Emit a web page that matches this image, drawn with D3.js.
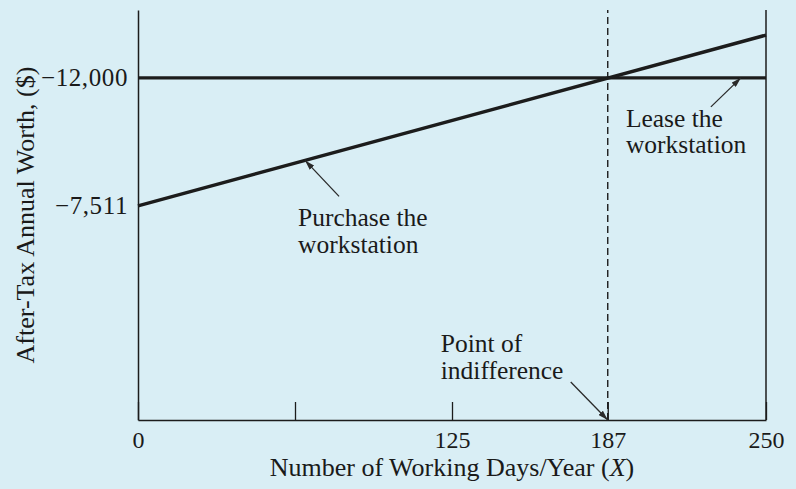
<!DOCTYPE html>
<html>
<head>
<meta charset="utf-8">
<script src="https://cdn.jsdelivr.net/npm/d3@7"></script>
<style>
  body { margin: 0; background: #d9eef5; }
  svg { display: block; }
  text { font-family: 'Liberation Serif', 'Times New Roman', serif; fill: #1a1a1a; }
</style>
</head>
<body>
<svg id="chart" width="796" height="489"></svg>
<script>
// data
const days = [0, 250]
const purchaseAW = [-7511, -13500]
const leaseAW = [-12000, -12000]
const breakEven = 187
const xTicks = [0, 62.5, 125, 187, 250]
const xTickLabels = ['0', '', '125', '187', '250']
const yTicks = [-12000, -7511]

const width = 796
const height = 489
const margin = { left: 138, right: 30, top: 10, bottom: 69 }

const svg = d3.select('#chart')
svg.append('rect').attr('width', width).attr('height', height).attr('fill', '#d9eef5')

const x = d3.scaleLinear().domain([0, 250]).range([margin.left, width - margin.right])
const y = d3.scaleLinear().domain([0, -14380]).range([height - margin.bottom, margin.top])

const ink = '#1c1c1c'

// arrow marker
svg.append('defs').append('marker')
    .attr('id', 'head')
    .attr('viewBox', '0 0 10 6')
    .attr('refX', 10)
    .attr('refY', 3)
    .attr('markerWidth', 10)
    .attr('markerHeight', 6)
    .attr('markerUnits', 'userSpaceOnUse')
    .attr('orient', 'auto')
    .append('path')
    .attr('d', 'M0,0L10,3L0,6Z')
    .attr('fill', '#2a2a2a')

// x axis
const xAxis = svg.append('g')
    .attr('transform', 'translate(0,' + y(0) + ')')
    .call(d3.axisBottom(x)
        .tickValues(xTicks)
        .tickFormat((d, i) => xTickLabels[i])
        .tickSizeInner(-18)
        .tickSizeOuter(0)
        .tickPadding(11))
xAxis.select('.domain').attr('stroke', ink).attr('stroke-width', 1.5)
xAxis.selectAll('.tick line').attr('stroke', ink).attr('stroke-width', 1.3)
xAxis.selectAll('.tick text')
    .attr('fill', ink)
    .attr('font-size', '24px')
    .attr('font-family', "'Liberation Serif', serif")

// y axis
const yAxis = svg.append('g')
    .attr('transform', 'translate(' + x(0) + ',0)')
    .call(d3.axisLeft(y)
        .tickValues(yTicks)
        .tickFormat(d3.format(','))
        .tickSize(0)
        .tickSizeOuter(0)
        .tickPadding(10))
yAxis.select('.domain').attr('stroke', ink).attr('stroke-width', 1.5)
yAxis.selectAll('.tick text')
    .attr('fill', ink)
    .attr('font-size', '25px')
    .attr('letter-spacing', '0.6px')
    .attr('font-family', "'Liberation Serif', serif")

// right frame line
svg.append('line')
    .attr('x1', x(250)).attr('x2', x(250))
    .attr('y1', y(0)).attr('y2', margin.top)
    .attr('stroke', ink).attr('stroke-width', 1.5)

// break-even dashed line
svg.append('line')
    .attr('x1', x(breakEven)).attr('x2', x(breakEven))
    .attr('y1', y(0)).attr('y2', margin.top)
    .attr('stroke', ink).attr('stroke-width', 1.4)
    .attr('stroke-dasharray', '7,4')

const line = d3.line().x(d => x(d[0])).y(d => y(d[1]))

svg.append('path')
    .datum(d3.zip(days, leaseAW))
    .attr('d', line)
    .attr('fill', 'none').attr('stroke', ink).attr('stroke-width', 3.4)

svg.append('path')
    .datum(d3.zip(days, purchaseAW))
    .attr('d', line)
    .attr('fill', 'none').attr('stroke', ink).attr('stroke-width', 3.4)

// annotations: arrow tip in data units, tail and label offsets in px
const purchaseAt = d => purchaseAW[0] + (purchaseAW[1] - purchaseAW[0]) * d / 250
const notes = [
    { lines: ['Purchase the', 'workstation'], tip: [66.5, purchaseAt(66.5)], tail: [34, 36], text: [-7, 66] },
    { lines: ['Lease the', 'workstation'], tip: [240, -12000], tail: [-30, 29], text: [-115, 49] },
    { lines: ['Point of', 'indifference'], tip: [breakEven, 0], tail: [-37, -38], text: [-167, -68] }
]

notes.forEach(n => {
    const tx = x(n.tip[0])
    const ty = y(n.tip[1])
    svg.append('line')
        .attr('x1', tx + n.tail[0]).attr('y1', ty + n.tail[1])
        .attr('x2', tx).attr('y2', ty)
        .attr('stroke', '#2a2a2a').attr('stroke-width', 1.3)
        .attr('marker-end', 'url(#head)')
    const t = svg.append('text')
        .attr('x', tx + n.text[0])
        .attr('y', ty + n.text[1])
        .attr('font-size', '25.5px')
    n.lines.forEach((s, i) => {
        t.append('tspan')
            .attr('x', tx + n.text[0])
            .attr('dy', i === 0 ? 0 : 26.5)
            .text(s)
    })
})

// axis titles
const xTitle = svg.append('text')
    .attr('x', (x(0) + x(250)) / 2)
    .attr('y', 476)
    .attr('text-anchor', 'middle')
    .attr('font-size', '26px')
xTitle.append('tspan').text('Number of Working Days/Year (')
xTitle.append('tspan').attr('font-style', 'italic').text('X')
xTitle.append('tspan').text(')')

svg.append('text')
    .attr('transform', 'translate(34,215) rotate(-90)')
    .attr('text-anchor', 'middle')
    .attr('font-size', '26px')
    .text('After-Tax Annual Worth, ($)')
</script>
</body>
</html>
